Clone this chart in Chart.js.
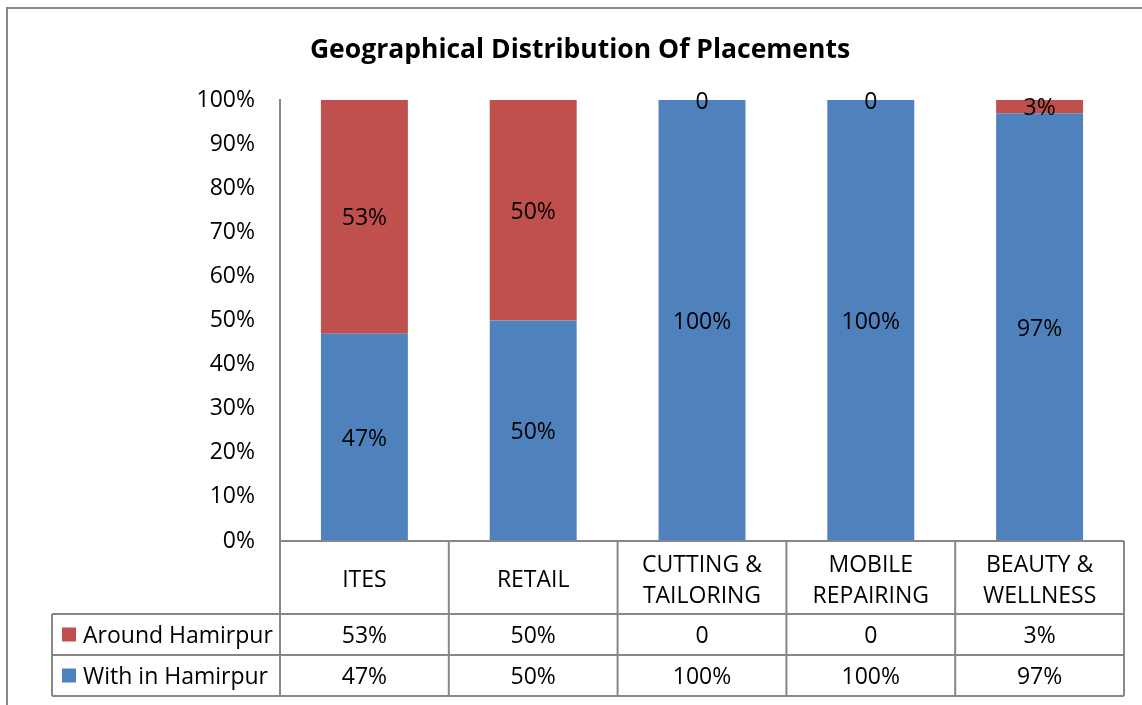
<!DOCTYPE html>
<html>
<head>
<meta charset="utf-8">
<script src="https://cdn.jsdelivr.net/npm/chart.js@4.4.1/dist/chart.umd.min.js"></script>
<style>
  body { margin: 0; background: #fff; }
  #wrap { width: 1142px; height: 705px; }
</style>
</head>
<body>
<div id="wrap"><canvas id="placementChart" width="1142" height="705"></canvas></div>
<script>
const chartTitle = 'Geographical Distribution Of Placements';
const categories = ['ITES', 'RETAIL', ['CUTTING &', 'TAILORING'], ['MOBILE', 'REPAIRING'], ['BEAUTY &', 'WELLNESS']];
const aroundHamirpur = [53, 50, 0, 0, 3];
const withinHamirpur = [47, 50, 100, 100, 97];
const yTicks = [0, 10, 20, 30, 40, 50, 60, 70, 80, 90, 100];

const RED = '#C0504D', BLUE = '#4F81BD', LINE = '#878787';
const FONT = '"Open Sans", sans-serif';
const FS = 23;

function fmt(v) {
  return v === 0 ? '0' : v + '%';
}

// table rows, top to bottom (legend order is reversed from stack order)
const tableRows = [
  { label: 'Around Hamirpur', color: RED, values: aroundHamirpur },
  { label: 'With in Hamirpur', color: BLUE, values: withinHamirpur }
];

const tablePlugin = {
  id: 'tablePlugin',
  beforeDraw(chart) {
    const c = chart.ctx;
    c.save();
    c.strokeStyle = LINE;
    c.lineWidth = 2;
    c.beginPath();
    c.moveTo(7, 705);
    c.lineTo(7, 8);
    c.lineTo(1142, 8);
    c.stroke();
    c.restore();
  },
  afterDraw(chart) {
    const c = chart.ctx;
    const x = chart.scales.x;
    const area = chart.chartArea;
    const headTop = area.bottom, headBot = 614, rowH = 41;
    const legLeft = 52;
    const bottom = headBot + rowH * tableRows.length;
    const half = (x.getPixelForValue(1) - x.getPixelForValue(0)) / 2;

    c.save();
    c.strokeStyle = LINE;
    c.lineWidth = 2;
    c.beginPath();
    // horizontal lines
    c.moveTo(area.left, headTop); c.lineTo(area.right, headTop);
    for (let r = 0; r <= tableRows.length; r++) {
      c.moveTo(legLeft, headBot + r * rowH);
      c.lineTo(area.right, headBot + r * rowH);
    }
    // vertical lines
    c.moveTo(area.left, headTop); c.lineTo(area.left, bottom);
    c.moveTo(legLeft, headBot); c.lineTo(legLeft, bottom);
    categories.forEach((cat, i) => {
      const xr = x.getPixelForValue(i) + half;
      c.moveTo(xr, headTop); c.lineTo(xr, bottom);
    });
    c.stroke();

    c.fillStyle = '#000';
    c.font = FS + 'px ' + FONT;
    c.textAlign = 'center';
    c.textBaseline = 'middle';
    const headMid = (headTop + headBot) / 2;
    categories.forEach((cat, i) => {
      const cx = x.getPixelForValue(i);
      const lines = Array.isArray(cat) ? cat : [cat];
      lines.forEach((ln, k) => {
        c.fillText(ln, cx, headMid + 3 + (k - (lines.length - 1) / 2) * 31);
      });
    });
    tableRows.forEach((row, r) => {
      const cy = headBot + r * rowH + rowH / 2;
      row.values.forEach((v, i) => {
        c.fillText(fmt(v), x.getPixelForValue(i), cy + 2);
      });
      c.fillStyle = row.color;
      c.fillRect(62, cy - 7, 14, 14);
      c.fillStyle = '#000';
      c.textAlign = 'left';
      c.fillText(row.label, 83, cy + 2);
      c.textAlign = 'center';
    });

    // title
    c.font = 'bold 26.5px ' + FONT;
    c.fillText(chartTitle, 580, 50);

    // segment labels
    c.font = FS + 'px ' + FONT;
    chart.data.datasets.forEach((ds, d) => {
      chart.getDatasetMeta(d).data.forEach((bar, i) => {
        c.fillText(fmt(ds.data[i]), bar.x, (bar.y + bar.base) / 2 + 2);
      });
    });
    c.restore();
  }
};

new Chart(document.getElementById('placementChart'), {
  type: 'bar',
  data: {
    labels: categories,
    datasets: [
      { label: 'With in Hamirpur', data: withinHamirpur, backgroundColor: BLUE },
      { label: 'Around Hamirpur', data: aroundHamirpur, backgroundColor: RED }
    ]
  },
  options: {
    responsive: false,
    animation: false,
    layout: { padding: { top: 100, right: 18, bottom: 164, left: 0 } },
    plugins: { legend: { display: false }, tooltip: { enabled: false } },
    datasets: { bar: { barPercentage: 0.515, categoryPercentage: 1 } },
    scales: {
      x: { stacked: true, display: false },
      y: {
        stacked: true,
        min: 0,
        max: 100,
        afterFit(scale) { scale.width = 280; },
        afterBuildTicks(scale) { scale.ticks = yTicks.map(v => ({ value: v })); },
        grid: { display: false, drawTicks: false },
        border: { display: true, color: LINE, width: 2 },
        ticks: {
          padding: 25,
          color: '#000',
          font: { family: FONT, size: FS },
          callback: v => v + '%'
        }
      }
    }
  },
  plugins: [tablePlugin]
});
</script>
</body>
</html>
